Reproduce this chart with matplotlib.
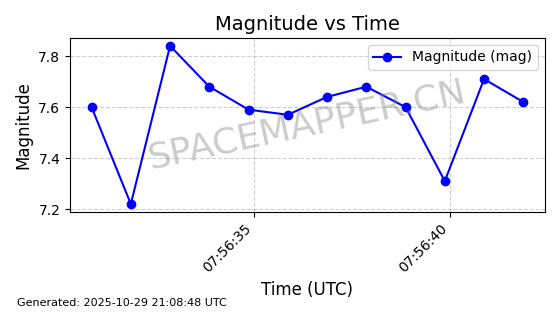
import matplotlib
matplotlib.use("Agg")
import matplotlib.pyplot as plt
import matplotlib.dates as mdates
import pandas as pd

start_time = "2025-10-29 07:56:30.87"
times = pd.date_range(start=start_time, periods=12, freq="1s")
magnitudes = [7.60, 7.22, 7.84, 7.68, 7.59, 7.57, 7.64, 7.68, 7.60, 7.31, 7.71, 7.62]

fig = plt.figure(figsize=(5.6, 3.14), dpi=100)
ax = fig.add_axes([0.125, 0.325, 0.848, 0.554])
ax.plot(times, magnitudes, marker="o", color="blue", linestyle="-", label="Magnitude (mag)")
ax.set_title("Magnitude vs Time", fontsize=14)
ax.set_xlabel("Time (UTC)", fontsize=12)
ax.set_ylabel("Magnitude", fontsize=12)
ax.grid(True, linestyle="--", alpha=0.6)
ax.legend(loc="upper right")
ax.xaxis.set_major_locator(mdates.SecondLocator(bysecond=range(0, 60, 5)))
ax.xaxis.set_major_formatter(mdates.DateFormatter("%H:%M:%S"))
plt.setp(ax.get_xticklabels(), rotation=45, ha="right")
ax.set_yticks([7.2, 7.4, 7.6, 7.8])

ax.text(0.5, 0.5, "SPACEMAPPER.CN", transform=ax.transAxes, fontsize=26,
        color="gray", alpha=0.4, rotation=12, ha="center", va="center")
fig.text(0.03, 0.025, "Generated: 2025-10-29 21:08:48 UTC", fontsize=8)

fig.savefig("out.png", dpi=100)
